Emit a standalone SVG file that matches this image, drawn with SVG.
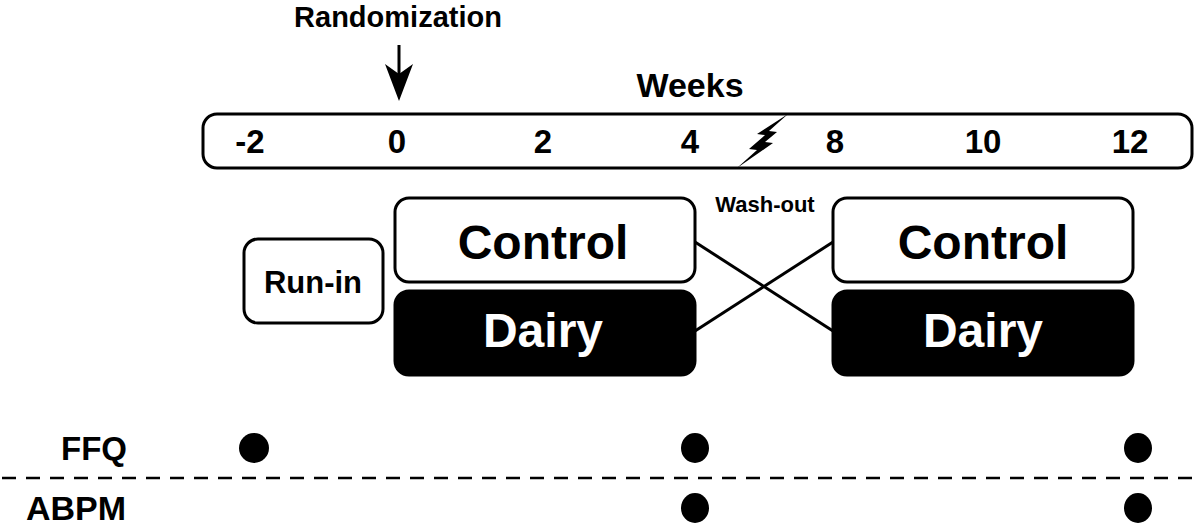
<svg xmlns="http://www.w3.org/2000/svg" width="1200" height="528" viewBox="0 0 1200 528">
<defs>
<style>
text{font-family:"Liberation Sans",Arial,sans-serif;font-weight:bold;fill:#000;text-anchor:middle}
.box{fill:#fff;stroke:#000;stroke-width:3}
.dark{fill:#000;stroke:#000;stroke-width:3}
.big{font-size:48px}
.num{font-size:33px}
.lbl{font-size:33px;text-anchor:end}
.line{stroke:#000;stroke-width:3;fill:none}
</style>
</defs>
<rect width="1200" height="528" fill="#fff"/>

<g id="randomization">
<text x="398" y="27" style="font-size:29px">Randomization</text>
<line x1="399" y1="45" x2="399" y2="74" class="line"/>
<path d="M385,64 L399,101 L413,64 L399,74 Z" fill="#000"/>
</g>

<g id="timeline">
<text x="690" y="97" style="font-size:34px">Weeks</text>
<rect x="203" y="114" width="989" height="54" rx="14" class="box"/>
<text x="250" y="153" class="num">-2</text>
<text x="397" y="153" class="num">0</text>
<text x="543" y="153" class="num">2</text>
<text x="690" y="153" class="num">4</text>
<text x="835" y="153" class="num">8</text>
<text x="983" y="153" class="num">10</text>
<text x="1130" y="153" class="num">12</text>
<polygon points="788,114 757,134 765,135 749,149 757,150 737,168 773,143 765,142 777,132 769,131" fill="#000"/>
</g>

<g id="runin">
<rect x="244" y="239" width="139" height="84" rx="14" class="box"/>
<text x="313" y="293" style="font-size:31px">Run-in</text>
</g>

<g id="control1">
<rect x="395" y="198" width="300" height="84" rx="14" class="box"/>
<text x="543" y="259" class="big">Control</text>
</g>
<g id="dairy1">
<rect x="395" y="291" width="300" height="84" rx="14" class="dark"/>
<text x="543" y="347" class="big" style="fill:#fff">Dairy</text>
</g>
<g id="control2">
<rect x="833" y="198" width="300" height="84" rx="14" class="box"/>
<text x="983" y="259" class="big">Control</text>
</g>
<g id="dairy2">
<rect x="833" y="291" width="300" height="84" rx="14" class="dark"/>
<text x="983" y="347" class="big" style="fill:#fff">Dairy</text>
</g>

<g id="washout">
<text x="765" y="212" style="font-size:22px">Wash-out</text>
</g>

<g id="connectors">
<line x1="695" y1="242" x2="833" y2="331" class="line"/>
<line x1="695" y1="331" x2="833" y2="242" class="line"/>
</g>

<g id="measures">
<text x="127" y="460" class="lbl">FFQ</text>
<text x="126" y="520" class="lbl" style="font-size:34px">ABPM</text>
<line x1="2" y1="478" x2="1198" y2="478" stroke="#000" stroke-width="2.5" stroke-dasharray="14,10"/>
<ellipse cx="254" cy="448" rx="15" ry="15" fill="#000"/>
<ellipse cx="695" cy="448" rx="14" ry="15" fill="#000"/>
<ellipse cx="1138" cy="448" rx="14" ry="15" fill="#000"/>
<ellipse cx="695" cy="508" rx="14" ry="15" fill="#000"/>
<ellipse cx="1138" cy="508" rx="14" ry="15" fill="#000"/>
</g>
</svg>
